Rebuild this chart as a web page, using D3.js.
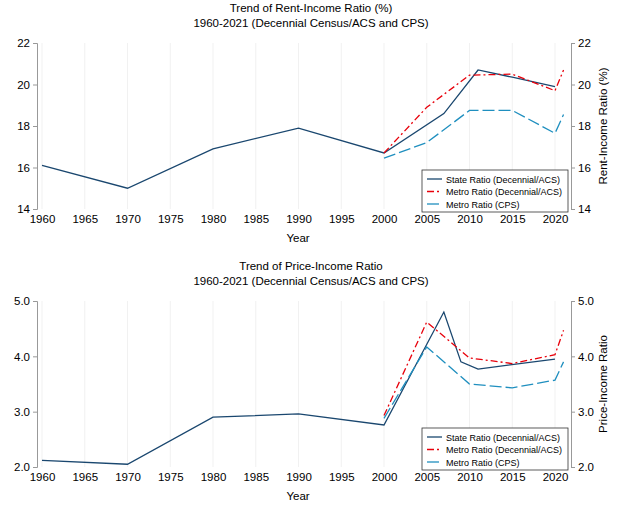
<!DOCTYPE html>
<html><head><meta charset="utf-8">
<script src="https://cdn.jsdelivr.net/npm/d3@7"></script>
<style>body{margin:0;background:#fff}text{font-family:"Liberation Sans",Arial,sans-serif}</style>
</head><body><svg id="c" width="622" height="518"></svg>
<script>
const xTicks = [1960,1965,1970,1975,1980,1985,1990,1995,2000,2005,2010,2015,2020];
const legendLabels = ["State Ratio (Decennial/ACS)","Metro Ratio (Decennial/ACS)","Metro Ratio (CPS)"];

const rentState = [[1960,16.1],[1970,15.0],[1980,16.9],[1990,17.9],[2000,16.7],[2007,18.6],[2011,20.7],[2015,20.35],[2020,19.9]];
const rentMetro = [[2000,16.7],[2005,18.9],[2010,20.45],[2015,20.5],[2020,19.7],[2021,20.7]];
const rentCPS = [[2000,16.45],[2005,17.2],[2010,18.75],[2015,18.75],[2020,17.65],[2021,18.55]];
const rentTicks = [14,16,18,20,22];

const priceState = [[1960,2.12],[1970,2.05],[1980,2.9],[1990,2.96],[2000,2.76],[2007,4.8],[2009,3.9],[2011,3.77],[2020,3.95]];
const priceMetro = [[2000,2.93],[2005,4.62],[2010,3.97],[2015,3.87],[2020,4.03],[2021,4.47]];
const priceCPS = [[2000,2.88],[2005,4.17],[2010,3.5],[2015,3.43],[2020,3.57],[2021,3.9]];
const priceTicks = [2.0,3.0,4.0,5.0];

const svg = d3.select("#c");
const styles = [
  {color:"#1a476f", dash:null},
  {color:"#e8000b", dash:"7,3,2,3"},
  {color:"#1f8fbf", dash:"12,4"}
];

function panel(top, titles, ytitle, series, ticks, fmt, ydom) {
  const x = d3.scaleLinear().domain([1960,2020]).range([42,555]);
  const y = d3.scaleLinear().domain(ydom).range([top+166, top]);
  const g = svg.append("g");
  titles.forEach((t,i)=>g.append("text").attr("x",311).attr("y",top-31+i*15)
    .attr("text-anchor","middle").attr("font-size",11.5).text(t));
  g.selectAll(".grid").data(xTicks).enter().append("line")
    .attr("x1",d=>x(d)).attr("x2",d=>x(d)).attr("y1",top).attr("y2",top+166)
    .attr("stroke","#eee").attr("stroke-width",0.8);
  const xa = g.append("g").attr("transform",`translate(0,${top+166})`)
    .call(d3.axisBottom(x).tickValues(xTicks).tickFormat(d3.format("d")).tickSize(3));
  const yl = g.append("g").attr("transform","translate(37,0)")
    .call(d3.axisLeft(y).tickValues(ticks).tickFormat(fmt).tickSize(4));
  const yr = g.append("g").attr("transform","translate(571,0)")
    .call(d3.axisRight(y).tickValues(ticks).tickFormat(fmt).tickSize(4));
  [xa,yl,yr].forEach(a=>{
    a.selectAll("path,line").attr("stroke","#999");
    a.selectAll("text").attr("font-size",11.5).attr("fill","#000");
  });
  xa.select("path").remove();
  xa.selectAll("line").remove();
  g.append("text").attr("x",298).attr("y",top+199).attr("text-anchor","middle").attr("font-size",11.5).text("Year");
  g.append("text").attr("transform",`translate(607,${top+83}) rotate(-90)`)
    .attr("text-anchor","middle").attr("font-size",11.5).text(ytitle);
  const line = d3.line().x(d=>x(d[0])).y(d=>y(d[1]));
  series.forEach((s,i)=>g.append("path").datum(s).attr("d",line).attr("fill","none")
    .attr("stroke",styles[i].color).attr("stroke-width",1.3).attr("stroke-dasharray",styles[i].dash));
  const lx=422, ly=top+127;
  g.append("rect").attr("x",lx).attr("y",ly).attr("width",146).attr("height",42)
    .attr("fill","#fff").attr("stroke","#333").attr("stroke-width",0.8);
  legendLabels.forEach((t,i)=>{
    const yy=ly+9+i*12.5;
    g.append("line").attr("x1",lx+5).attr("x2",lx+20).attr("y1",yy).attr("y2",yy)
      .attr("stroke",styles[i].color).attr("stroke-width",1.3).attr("stroke-dasharray",styles[i].dash);
    g.append("text").attr("x",lx+24).attr("y",yy+3.5).attr("font-size",9).text(t);
  });
}

panel(43, ["Trend of Rent-Income Ratio (%)","1960-2021 (Decennial Census/ACS and CPS)"],
  "Rent-Income Ratio (%)", [rentState,rentMetro,rentCPS], rentTicks, d3.format("d"), [14,22]);
panel(301, ["Trend of Price-Income Ratio","1960-2021 (Decennial Census/ACS and CPS)"],
  "Price-Income Ratio", [priceState,priceMetro,priceCPS], priceTicks, d3.format(".1f"), [2,5]);
</script></body></html>
